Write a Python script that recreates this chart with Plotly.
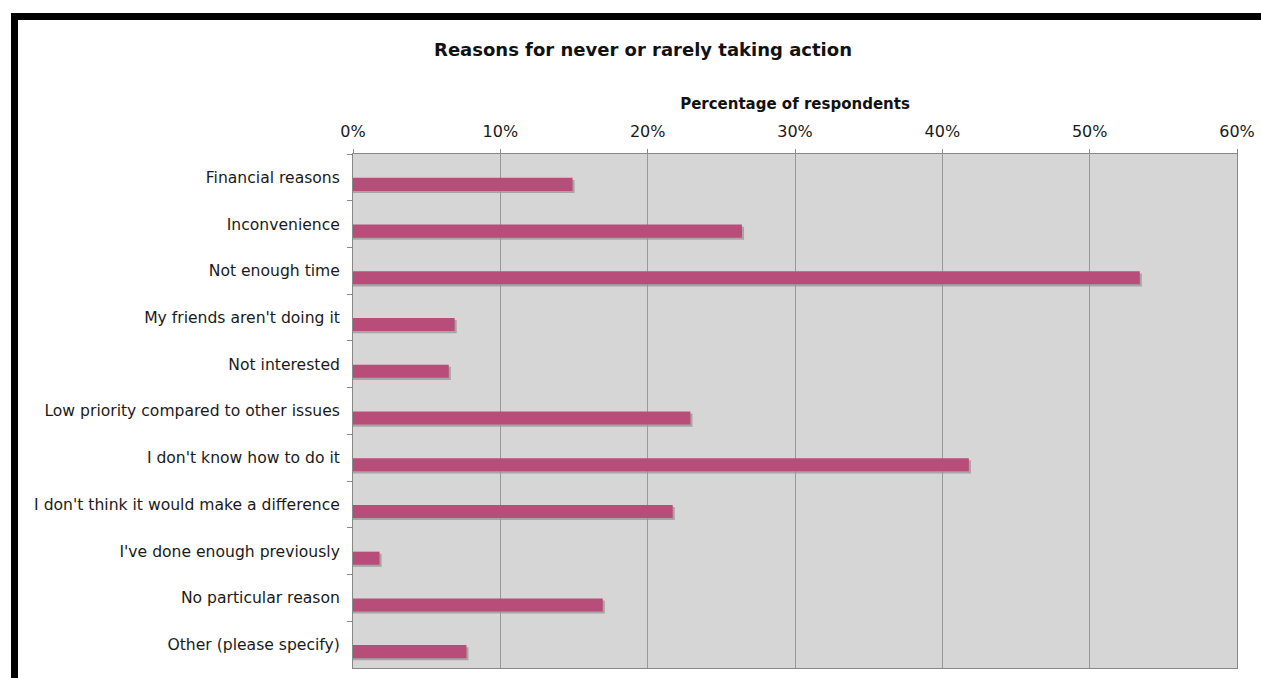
import plotly.graph_objects as go

categories = [
    "Financial reasons",
    "Inconvenience",
    "Not enough time",
    "My friends aren't doing it",
    "Not interested",
    "Low priority compared to other issues",
    "I don't know how to do it",
    "I don't think it would make a difference",
    "I've done enough previously",
    "No particular reason",
    "Other (please specify)",
]
values = [14.9, 26.4, 53.4, 6.9, 6.5, 22.9, 41.8, 21.7, 1.8, 16.95, 7.7]
tick_vals = [0, 10, 20, 30, 40, 50, 60]
tick_text = ["0%", "10%", "20%", "30%", "40%", "50%", "60%"]

FONT = "DejaVu Sans, Verdana, sans-serif"
BAR_COLOR = "#b84d7a"
SHADOW = "rgba(150,150,150,0.75)"

W, H = 1261, 678
L, R, T, B = 353, 24, 154, 10
pw, ph = W - L - R, H - T - B

fig = go.Figure()
# shadow
fig.add_trace(go.Bar(
    y=categories, x=[v + 0.14 for v in values], orientation="h",
    marker=dict(color=SHADOW, line=dict(width=0)),
    width=0.28, offset=0.055, hoverinfo="skip", showlegend=False,
))
fig.add_trace(go.Bar(
    y=categories, x=values, orientation="h",
    marker=dict(color=BAR_COLOR, line=dict(width=0)),
    width=0.28, offset=0.01, showlegend=False,
))

def px_x(x):
    return (x - L) / pw

def px_y(y):
    return (H - B - y) / ph

shapes = [
    dict(type="rect", xref="paper", yref="paper", layer="above",
         x0=px_x(11), x1=px_x(1262), y0=px_y(20), y1=px_y(13),
         fillcolor="black", line=dict(width=0)),
    dict(type="rect", xref="paper", yref="paper", layer="above",
         x0=px_x(11), x1=px_x(18), y0=px_y(679), y1=px_y(13),
         fillcolor="black", line=dict(width=0)),
]

fig.update_layout(
    width=W, height=H,
    margin=dict(l=L, r=R, t=T, b=B, autoexpand=False),
    paper_bgcolor="white",
    plot_bgcolor="#d6d6d6",
    barmode="overlay",
    font=dict(family=FONT, size=15.6, color="#1a1a1a"),
    title=dict(
        text="<b>Reasons for never or rarely taking action</b>",
        x=643 / W, xanchor="center", xref="container",
        y=1 - 50 / H, yanchor="middle", yref="container",
        font=dict(family=FONT, size=18, color="#111111"),
    ),
    xaxis=dict(
        side="top", range=[0, 60], tickvals=tick_vals, ticktext=tick_text,
        showgrid=True, gridcolor="#999999", gridwidth=1,
        zeroline=False, showline=True, linecolor="#888888", mirror=True,
        ticks="outside", ticklen=4, tickcolor="#888888",
        ticklabelstandoff=6,
        tickfont=dict(family=FONT, size=16, color="#1a1a1a"),
        title=dict(text="<b>Percentage of respondents</b>", standoff=8,
                   font=dict(family=FONT, size=15, color="#111111")),
        fixedrange=True,
    ),
    yaxis=dict(
        categoryorder="array", categoryarray=categories,
        autorange="reversed", tickson="boundaries",
        showgrid=False, showline=True, linecolor="#888888", mirror=True,
        ticks="outside", ticklen=5, tickcolor="#888888",
        ticklabelstandoff=9,
        tickfont=dict(family=FONT, size=15.6, color="#1a1a1a"),
        fixedrange=True,
    ),
    shapes=shapes,
)

fig.write_html(
    "out.html",
    config={"displayModeBar": False},
    post_script="document.body.style.margin='0';document.body.style.overflow='hidden';",
)
